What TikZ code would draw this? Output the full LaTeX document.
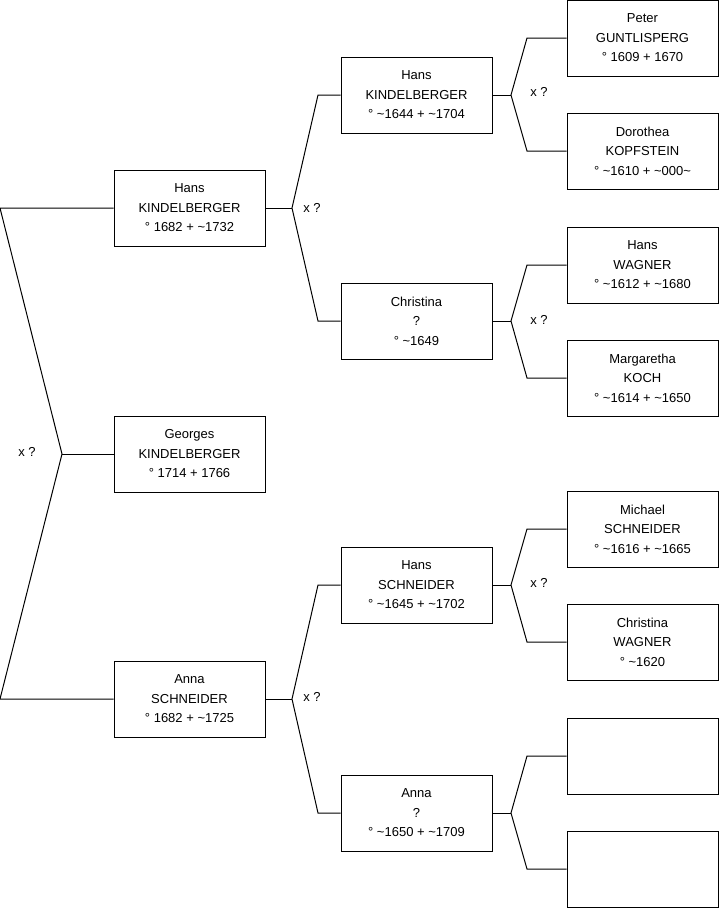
\documentclass[tikz,border=0pt]{standalone}
\usepackage{fontspec}
\setmainfont{Liberation Sans}
\begin{document}
\begin{tikzpicture}[x=1pt, y=-1pt,
    every node/.style={font=\fontsize{13}{19.5}\selectfont},
    box/.style={draw, rectangle, line width=1pt, minimum width=151pt, minimum height=76pt, inner sep=0pt, align=center},
    link/.style={line width=1pt}]
    \useasboundingbox (0,0) rectangle (719,908);

    % first column
    \node[box] (georges) at (189.5,454) {Georges\\KINDELBERGER\\° 1714 + 1766};
    \node[box] (hansA) at (189.5,208) {Hans\\KINDELBERGER\\° 1682 + \textasciitilde1732};
    \node[box] (annaA) at (189.5,699) {Anna\\SCHNEIDER\\° 1682 + \textasciitilde1725};

    % second column
    \node[box] (hansB) at (416.5,95) {Hans\\KINDELBERGER\\° \textasciitilde1644 + \textasciitilde1704};
    \node[box] (christinaB) at (416.5,321) {Christina\\?\\° \textasciitilde1649};
    \node[box] (hansS) at (416.5,585) {Hans\\SCHNEIDER\\° \textasciitilde1645 + \textasciitilde1702};
    \node[box] (annaB) at (416.5,813) {Anna\\?\\° \textasciitilde1650 + \textasciitilde1709};

    % third column
    \node[box] (peter) at (642.5,38) {Peter\\GUNTLISPERG\\° 1609 + 1670};
    \node[box] (dorothea) at (642.5,151) {Dorothea\\KOPFSTEIN\\° \textasciitilde1610 + \textasciitilde000\textasciitilde};
    \node[box] (hansW) at (642.5,265) {Hans\\WAGNER\\° \textasciitilde1612 + \textasciitilde1680};
    \node[box] (margaretha) at (642.5,378) {Margaretha\\KOCH\\° \textasciitilde1614 + \textasciitilde1650};
    \node[box] (michael) at (642.5,529) {Michael\\SCHNEIDER\\° \textasciitilde1616 + \textasciitilde1665};
    \node[box] (christinaW) at (642.5,642) {Christina\\WAGNER\\° \textasciitilde1620};
    \node[box] (emptyA) at (642.5,756) {};
    \node[box] (emptyB) at (642.5,869) {};

    % forks
    \coordinate (f0) at (62,454);   \coordinate (f0a) at (0,208);   \coordinate (f0b) at (0,699);
    \coordinate (f1) at (292,208);  \coordinate (f1a) at (318,95);  \coordinate (f1b) at (318,321);
    \coordinate (f2) at (292,699);  \coordinate (f2a) at (318,585); \coordinate (f2b) at (318,813);
    \coordinate (f3) at (511,95);   \coordinate (f3a) at (527,38);  \coordinate (f3b) at (527,151);
    \coordinate (f4) at (511,321);  \coordinate (f4a) at (527,265); \coordinate (f4b) at (527,378);
    \coordinate (f5) at (511,585);  \coordinate (f5a) at (527,529); \coordinate (f5b) at (527,642);
    \coordinate (f6) at (511,813);  \coordinate (f6a) at (527,756); \coordinate (f6b) at (527,869);

    \draw[link] (georges.west) -- (f0);
    \draw[link] (hansA.west) -- (f0a) -- (f0) -- (f0b) -- (annaA.west);
    \draw[link] (hansA.east) -- (f1);
    \draw[link] (hansB.west) -- (f1a) -- (f1) -- (f1b) -- (christinaB.west);
    \draw[link] (annaA.east) -- (f2);
    \draw[link] (hansS.west) -- (f2a) -- (f2) -- (f2b) -- (annaB.west);
    \draw[link] (hansB.east) -- (f3);
    \draw[link] (peter.west) -- (f3a) -- (f3) -- (f3b) -- (dorothea.west);
    \draw[link] (christinaB.east) -- (f4);
    \draw[link] (hansW.west) -- (f4a) -- (f4) -- (f4b) -- (margaretha.west);
    \draw[link] (hansS.east) -- (f5);
    \draw[link] (michael.west) -- (f5a) -- (f5) -- (f5b) -- (christinaW.west);
    \draw[link] (annaB.east) -- (f6);
    \draw[link] (emptyA.west) -- (f6a) -- (f6) -- (f6b) -- (emptyB.west);

    % marriage marks
    \node (m0) at (27,452) {x ?};
    \node (m1) at (312,208) {x ?};
    \node (m2) at (312,697) {x ?};
    \node (m3) at (539,92) {x ?};
    \node (m4) at (539,320) {x ?};
    \node (m5) at (539,583) {x ?};
\end{tikzpicture}
\end{document}
